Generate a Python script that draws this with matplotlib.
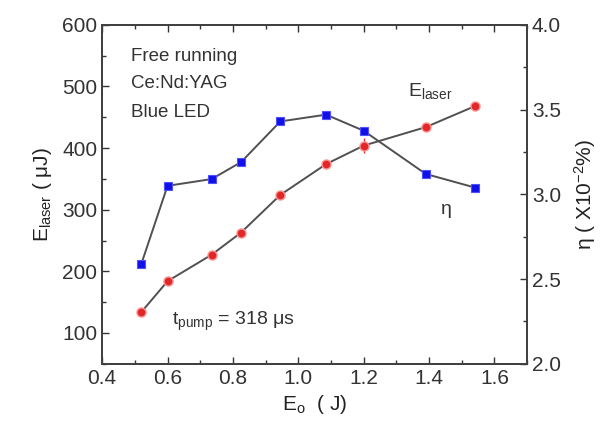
"""
Laser energy and efficiency vs pump energy
"""
import numpy as np
import matplotlib
matplotlib.use('Agg')
import matplotlib.pyplot as plt
from matplotlib.ticker import MultipleLocator

plt.rcParams['font.family'] = ['Liberation Sans', 'DejaVu Sans']
plt.rcParams['mathtext.fontset'] = 'custom'
plt.rcParams['mathtext.rm'] = 'Liberation Sans'
plt.rcParams['mathtext.it'] = 'Liberation Sans:italic'

#Data
E0 = [0.52, 0.60, 0.735, 0.825, 0.945, 1.085, 1.20, 1.39, 1.54]
E_laser = [134, 184, 227, 263, 324, 374, 404, 434, 468]
E_laser_err = [0, 0, 0, 0, 0, 0, 12, 0, 0]
eta = [2.59, 3.05, 3.09, 3.19, 3.43, 3.47, 3.375, 3.12, 3.04]

fig = plt.figure(figsize=(6.08, 4.28), dpi=100)
ax = fig.add_axes([0.168, 0.150, 0.699, 0.792])
ax2 = ax.twinx()

line_col = '#505050'
ax.plot(E0, E_laser, '-', color=line_col, lw=1.4, zorder=2)
ax.errorbar(E0, E_laser, yerr=E_laser_err, fmt='none', ecolor='#e03030', lw=1, zorder=2)
ax.plot(E0, E_laser, 'o', color='#e02828', ms=6.5, mec='#ff9090', mew=1, zorder=3)

ax2.plot(E0, eta, '-', color=line_col, lw=1.4, zorder=2)
ax2.plot(E0, eta, 's', color='#1010e8', ms=6, mec='#5050ff', mew=0.8, zorder=3)

ax.set_xlim(0.4, 1.7)
ax.set_ylim(50, 600)
ax2.set_ylim(2.0, 4.0)

ax.xaxis.set_minor_locator(MultipleLocator(0.1))
ax.yaxis.set_minor_locator(MultipleLocator(50))
ax2.yaxis.set_minor_locator(MultipleLocator(0.25))
ax.set_xticks(np.arange(0.4, 1.61, 0.2))
ax.set_yticks(np.arange(100, 601, 100))
ax.set_xticklabels(['0.4', '0.6', '0.8', '1.0', '1.2', '1.4', '1.6'])
ax2.set_yticks(np.arange(2.0, 4.01, 0.5))
ax2.set_yticklabels(['2.0', '2.5', '3.0', '3.5', '4.0'])

ax.tick_params(which='both', direction='in', top=True, labelsize=15, colors='#333333')
ax.tick_params(which='major', length=5, width=1)
ax.tick_params(which='minor', length=3, width=1)
ax2.tick_params(which='both', direction='in', labelsize=15, colors='#333333')
ax2.tick_params(which='major', length=5, width=1)
ax2.tick_params(which='minor', length=3, width=1)
for a in (ax, ax2):
    for s in a.spines.values():
        s.set_linewidth(1.3)
        s.set_color('#404040')

ax.set_xlabel(r'E$_{\mathrm{o}}$  ( J)', fontsize=15, color='#222222', labelpad=4)
ax.set_ylabel(r'E$_{\mathrm{laser}}$ ( $\mathrm{\mu}$J)', fontsize=15, color='#222222', labelpad=6)
ax2.set_ylabel(r'η ( X10$^{-2}$%)', fontsize=15, color='#222222', labelpad=8)

txt_col = '#333333'
ax.text(0.488, 548, 'Free running', fontsize=13.5, color=txt_col, va='center')
ax.text(0.488, 504, 'Ce:Nd:YAG', fontsize=13.5, color=txt_col, va='center')
ax.text(0.488, 457, 'Blue LED', fontsize=13.5, color=txt_col, va='center')
ax.text(1.335, 492, r'E$_{\mathrm{laser}}$', fontsize=14, color=txt_col, va='center')
ax.text(1.435, 300, 'η', fontsize=14, color=txt_col, va='center')
ax.text(0.615, 118, r't$_{\mathrm{pump}}$ = 318 $\mathrm{\mu}$s', fontsize=14, color=txt_col, va='center')

fig.savefig('out.png', dpi=100)
